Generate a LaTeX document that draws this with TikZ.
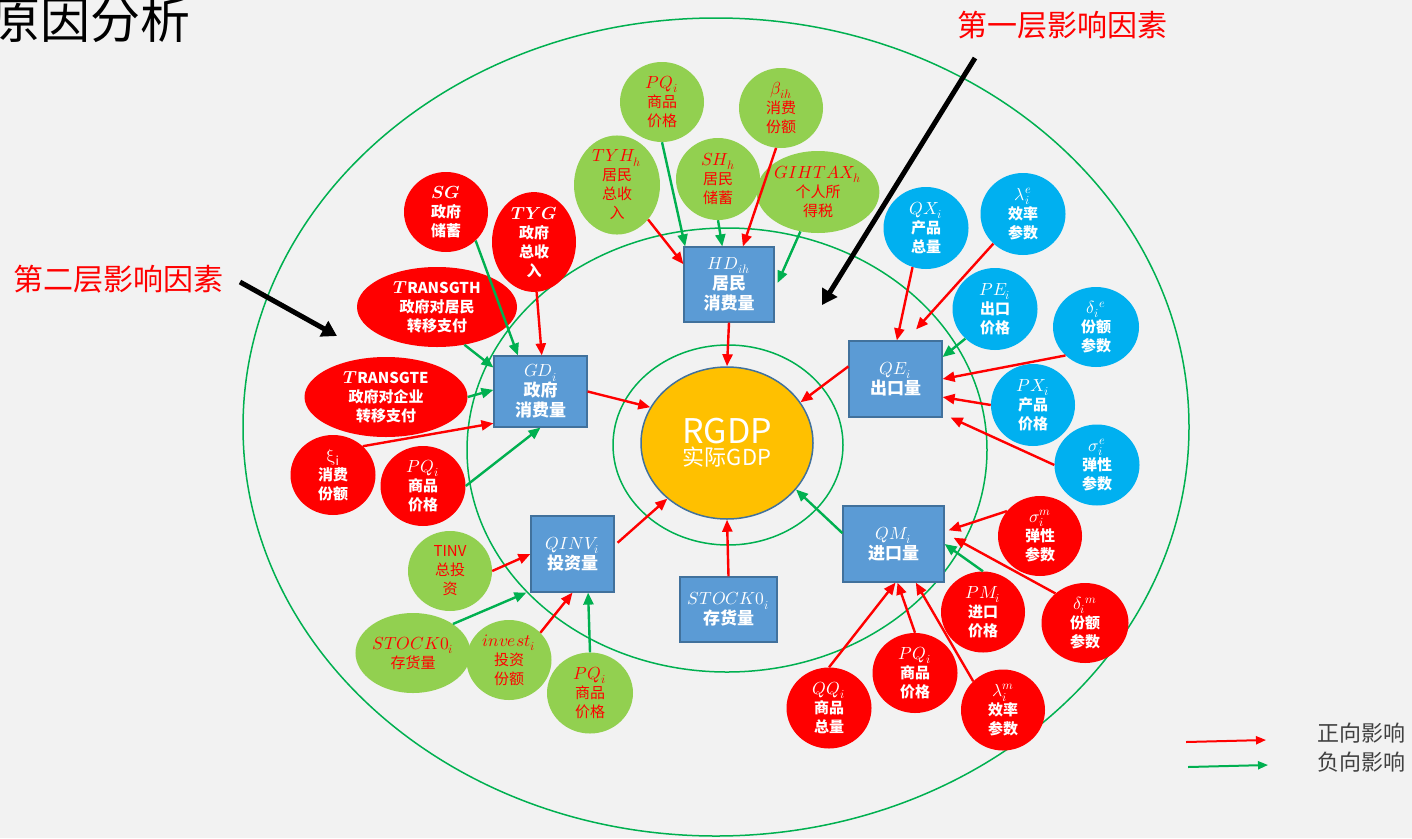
\documentclass[tikz,border=0pt]{standalone}
\usepackage{fontspec}
\usepackage{unicode-math}
\setmainfont{Noto Sans CJK SC}
\setmathfont{Latin Modern Math}
\usetikzlibrary{arrows.meta,shapes.geometric,calc}
\definecolor{bg}{HTML}{F2F2F2}
\definecolor{lgreen}{HTML}{00B050}
\definecolor{gfill}{HTML}{92D050}
\definecolor{bfill}{HTML}{00B0F0}
\definecolor{boxfill}{HTML}{5B9BD5}
\definecolor{boxline}{HTML}{41719C}
\definecolor{gold}{HTML}{FFC000}
\definecolor{dgray}{HTML}{404040}
\newcommand{\mymath}[1]{{\fontsize{17.5}{19}\selectfont$#1$}}
\tikzset{
  circ/.style={ellipse, inner sep=0pt, minimum width=84pt, minimum height=80pt, align=center},
  gc/.style={circ, fill=gfill, text=red, font=\fontsize{15}{19}\selectfont},
  rc/.style={circ, fill=red, text=white, font=\bfseries\fontsize{15}{19}\selectfont},
  bc/.style={circ, fill=bfill, text=white, font=\bfseries\fontsize{15}{19}\selectfont},
  vbox/.style={rectangle, draw=boxline, line width=1.2pt, fill=boxfill, text=white, align=center, inner sep=0pt, font=\bfseries\fontsize{17}{20}\selectfont},
  ring/.style={draw=lgreen, line width=1.5pt},
  parr/.style={draw=red, line width=2.4pt, -{Triangle[length=12pt,width=10pt]}},
  narr/.style={draw=lgreen, line width=2.4pt, -{Triangle[length=12pt,width=10pt]}},
  blkarr/.style={draw=black, line width=5pt, -{Triangle[length=15pt,width=17pt]}},
  lparr/.style={draw=red, line width=2pt, -{Triangle[length=10pt,width=8pt]}},
  lnarr/.style={draw=lgreen, line width=2pt, -{Triangle[length=10pt,width=8pt]}},
}
\begin{document}
\begin{tikzpicture}[x=1pt,y=-1pt]
\fill[bg] (0,0) rectangle (1412,838);
\useasboundingbox (0,0) rectangle (1412,838);

% rings
\draw[ring] (716,427) ellipse [x radius=473pt, y radius=409pt];
\draw[ring] (727,450) ellipse [x radius=260pt, y radius=222pt];
\draw[ring] (728,445) ellipse [x radius=115pt, y radius=100pt];

% titles
\node[anchor=west, inner sep=0pt, font=\fontsize{50}{50}\selectfont, text=black] (title) at (-10,20) {原因分析};
\node[inner sep=0pt, font=\fontsize{30}{30}\selectfont, text=red] (L1) at (1062,25) {第一层影响因素};
\node[inner sep=0pt, font=\fontsize{30}{30}\selectfont, text=red] (L2) at (118,279) {第二层影响因素};

% centre
\node[ellipse, minimum width=172pt, minimum height=152pt, inner sep=0pt, fill=gold, draw=boxline, line width=1.5pt, text=white, align=center] (RGDP) at (727,443)
  {{\fontsize{34}{36}\selectfont RGDP}\\[2pt]{\fontsize{22}{24}\selectfont 实际GDP}};

% boxes
\node[vbox, minimum width=90pt, minimum height=75pt] (HD) at (729,284.5) {\mymath{HD_{ih}}\\居民\\消费量};
\node[vbox, minimum width=93pt, minimum height=71pt] (GD) at (540.5,391.5) {\mymath{GD_i}\\政府\\消费量};
\node[vbox, minimum width=93pt, minimum height=76pt] (QE) at (895.5,379) {\mymath{QE_i}\\出口量};
\node[vbox, minimum width=101pt, minimum height=76pt] (QM) at (893.5,544) {\mymath{QM_i}\\进口量};
\node[vbox, minimum width=83pt, minimum height=76pt] (QINV) at (572.5,554) {\mymath{QINV_i}\\投资量};
\node[vbox, minimum width=97pt, minimum height=65pt] (SB) at (728.5,609.5) {\mymath{STOCK0_i}\\存货量};

% green circles
\node[gc] (PQt) at (662,102) {\mymath{PQ_i}\\商品\\价格};
\node[gc] (beta) at (781,108) {\mymath{\beta_{ih}}\\消费\\份额};
\node[gc, minimum width=86pt, minimum height=84pt] (TYH) at (617,185) {\mymath{TYH_h}\\居民\\总收\\入};
\node[gc, minimum height=82pt] (SH) at (718,179) {\mymath{SH_h}\\居民\\储蓄};
\node[gc, minimum width=102pt, minimum height=82pt] (GIH) at (818,192) {\mymath{GIHTAX_h}\\个人所\\得税};
\node[gc] (TINV) at (450,571) {TINV\\总投\\资};
\node[gc, minimum width=102pt] (STK) at (413,653) {\mymath{STOCK0_i}\\存货量};
\node[gc, minimum width=85pt] (INV) at (509,660) {\mymath{invest_i}\\投资\\份额};
\node[gc, minimum width=86pt, minimum height=81pt] (PQbl) at (590,693) {\mymath{PQ_i}\\商品\\价格};

% red circles
\node[rc] (SG) at (446,212) {\mymath{\symbfit{SG}}\\政府\\储蓄};
\node[rc] (TYG) at (534,242) {\mymath{\symbfit{TYG}}\\政府\\总收\\入};
\node[rc, minimum width=160pt] (GTH) at (437,307) {\mymath{\symbfit{T}}RANSGTH\\政府对居民\\转移支付};
\node[rc, minimum width=163pt] (GTE) at (386,397) {\mymath{\symbfit{T}}RANSGTE\\政府对企业\\转移支付};
\node[rc, minimum width=85pt] (XI) at (333,475) {\mymath{\upxi_{\mathrm{i}}}\\消费\\份额};
\node[rc, minimum width=85pt] (PQl) at (423,486) {\mymath{PQ_i}\\商品\\价格};
\node[rc] (SM) at (1040,536) {\mymath{\sigma_i^m}\\弹性\\参数};
\node[rc, minimum width=87pt] (DM) at (1085,623) {\mymath{\delta_i{}^m}\\份额\\参数};
\node[rc, minimum height=81pt] (PM) at (983,612) {\mymath{PM_i}\\进口\\价格};
\node[rc, minimum width=85pt, minimum height=81pt] (QQ) at (829,708) {\mymath{QQ_i}\\商品\\总量};
\node[rc, minimum width=85pt] (PQbr) at (915,673) {\mymath{PQ_i}\\商品\\价格};
\node[rc, minimum height=81pt] (LM) at (1003,710) {\mymath{\lambda_i^m}\\效率\\参数};

% blue circles
\node[bc, minimum width=85pt, minimum height=82pt] (QX) at (926,228) {\mymath{QX_i}\\产品\\总量};
\node[bc, minimum width=85pt, minimum height=82pt] (LE) at (1023,214) {\mymath{\lambda_i^e}\\效率\\参数};
\node[bc, minimum width=85pt, minimum height=82pt] (PE) at (995,309) {\mymath{PE_i}\\出口\\价格};
\node[bc, minimum width=86pt] (DE) at (1096,327) {\mymath{\delta_i{}^e}\\份额\\参数};
\node[bc, minimum height=82pt] (PX) at (1033,405) {\mymath{PX_i}\\产品\\价格};
\node[bc, minimum width=85pt, minimum height=81pt] (SE) at (1097,465) {\mymath{\sigma_i^e}\\弹性\\参数};

% HD connectors
\draw[parr] (TYH.-48) -- (HD.156);
\draw[narr] (PQt.-90) -- (HD.139);
\draw[narr] (SH.-90) -- (HD.100);
\draw[parr] (beta.-97) -- (HD.70);
\draw[narr] (GIH.-114) -- ([xshift=3pt]HD.2);
\draw[parr] (HD.south) -- (RGDP.north);

% GD connectors
\draw[narr] (SG.-44) -- (GD.122);
\draw[parr] (TYG.-87) -- (GD.88);
\draw[narr] (GTH.-54) -- (GD.153);
\draw[narr] (GTE.east) -- (GD.178);
\draw[parr] (XI.44) -- (GD.214);
\draw[narr] (PQl.0) -- (GD.-90);
\draw[parr] (GD.east) -- (RGDP.155);

% QE connectors
\draw[parr] (QX.-109) -- (QE.88);
\draw[parr] (LE.-135) -- ([yshift=11pt]QE.62);
\draw[narr] (PE.-135) -- (QE.25);
\draw[parr] (DE.-137) -- (QE.0);
\draw[parr] (PX.180) -- (QE.-21);
\draw[parr] (SE.180) -- ([xshift=8pt]QE.south east);
\draw[parr] (QE.165) -- (RGDP.29);

% QM connectors
\draw[parr] (SM.143) -- ([xshift=4pt]QM.15);
\draw[parr] (DM.135) -- ([xshift=9pt]QM.7);
\draw[narr] (PM.90) -- (QM.0);
\draw[parr] (QQ.90) -- ([xshift=2pt]QM.south);
\draw[parr] (PQbr.90) -- ([xshift=4pt]QM.south);
\draw[parr] (LM.136) -- (QM.-60);
\draw[narr] (QM.168) -- (RGDP.-34);

% QINV connectors
\draw[parr] (TINV.0) -- (QINV.west);
\draw[narr] (STK.36) -- ([xshift=-4pt]QINV.south west);
\draw[parr] (INV.41) -- (QINV.south);
\draw[narr] (PQbl.90) -- (QINV.-68);
\draw[parr] ([xshift=3pt]QINV.15) -- (RGDP.223);
\draw[parr] (SB.north) -- (RGDP.south);

% black pointer arrows
\coordinate (k1s) at (975,58);
\coordinate (k1e) at (822,305);
\coordinate (k2s) at (240,282);
\coordinate (k2e) at (337,336);
\draw[blkarr] (k1s) -- (k1e);
\draw[blkarr] (k2s) -- (k2e);

% legend
\coordinate (lr1) at (1186,742);
\coordinate (lr2) at (1266,740);
\coordinate (lg1) at (1188,767);
\coordinate (lg2) at (1268,765);
\draw[lparr] (lr1) -- (lr2);
\draw[lnarr] (lg1) -- (lg2);
\node[anchor=west, inner sep=0pt, text=dgray, font=\fontsize{22}{22}\selectfont] (LP) at (1317,733) {正向影响};
\node[anchor=west, inner sep=0pt, text=dgray, font=\fontsize{22}{22}\selectfont] (LN) at (1317,762) {负向影响};
\end{tikzpicture}
\end{document}
